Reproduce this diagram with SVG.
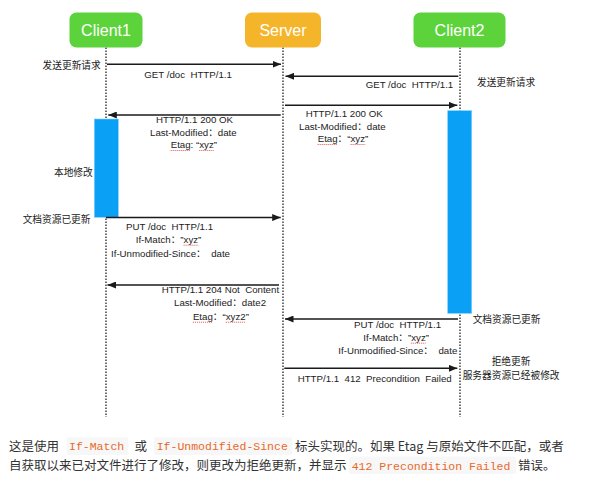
<svg xmlns="http://www.w3.org/2000/svg" width="606" height="481" viewBox="0 0 606 481">
<style>
.box text{font-family:"Liberation Sans",Arial,sans-serif;font-size:16px;fill:#fff;text-anchor:middle}
.lb{font-family:"Liberation Sans","Noto Sans CJK SC",sans-serif;font-size:9.7px;fill:#222;white-space:pre;text-spacing-trim:space-all}
.life{stroke:#222;stroke-width:1.3;stroke-dasharray:1.5 1.5;fill:none}
.msg{stroke:#1a1a1a;stroke-width:1.5;fill:none;marker-end:url(#ah)}
.act{fill:#0AA0F6;stroke:#7ccdfb;stroke-width:0.6}
.sq{stroke:#e0403a;stroke-width:0.9;stroke-dasharray:1 1;fill:none}
.bt{font-family:"Noto Sans CJK SC","Liberation Sans",sans-serif;font-size:12.5px;fill:#333;white-space:pre;text-spacing-trim:space-all}
.code{font-family:"Liberation Mono","DejaVu Sans Mono",monospace;font-size:11.5px;fill:#E8692A;white-space:pre}
.cbg{fill:#F7F7F7}
</style>
<defs>
<marker id="ah" markerUnits="userSpaceOnUse" markerWidth="9" markerHeight="7" refX="8.5" refY="3.5" orient="auto">
<path d="M0,0 L8.5,3.5 L0,7 z" fill="#1a1a1a"/>
</marker>
</defs>
<rect width="606" height="481" fill="#fff"/>

<g id="lifelines">
<line class="life" x1="106" y1="47.5" x2="106" y2="417"/>
<line class="life" x1="283" y1="47.5" x2="283" y2="417"/>
<line class="life" x1="460" y1="47.5" x2="460" y2="417"/>
</g>

<g id="client1" class="box">
<rect x="69.5" y="12.5" width="73" height="35" rx="7" fill="#5CD33A"/>
<text x="106" y="35.5">Client1</text>
</g>
<g id="server" class="box">
<rect x="245" y="12.5" width="76" height="35" rx="7" fill="#F5B52A"/>
<text x="283" y="35.5">Server</text>
</g>
<g id="client2" class="box">
<rect x="413.5" y="12.5" width="92" height="35" rx="7" fill="#5CD33A"/>
<text x="459.5" y="35.5">Client2</text>
</g>

<g id="activation-client1">
<rect class="act" x="94.3" y="119" width="24" height="98.3"/>
</g>
<g id="activation-client2">
<rect class="act" x="447.7" y="110.7" width="24" height="202.6"/>
</g>

<g id="connectors">
<line class="msg" x1="107" y1="64.3" x2="281" y2="64.3"/>
<line class="msg" x1="458.3" y1="76.3" x2="285.5" y2="76.3"/>
<line class="msg" x1="285" y1="105.3" x2="457.3" y2="105.3"/>
<line class="msg" x1="280.7" y1="115" x2="108.3" y2="115"/>
<line class="msg" x1="106" y1="217.6" x2="280.7" y2="217.6"/>
<line class="msg" x1="279" y1="285" x2="107.5" y2="285"/>
<line class="msg" x1="458" y1="319" x2="285" y2="319"/>
<line class="msg" x1="284.3" y1="368.3" x2="457.3" y2="368.3"/>
</g>

<g id="labels">
<text class="lb" x="42.6" y="68.5">发送更新请求</text>
<text class="lb" x="144.3" y="77.7">GET /doc  HTTP/1.1</text>
<text class="lb" x="365.7" y="88">GET /doc  HTTP/1.1</text>
<text class="lb" x="477" y="86.2">发送更新请求</text>

<text class="lb" x="305.7" y="116.7">HTTP/1.1 200 OK</text>
<text class="lb" x="299" y="129.5">Last-Modified：date</text>
<text class="lb" x="317.7" y="142.3">Etag：“xyz”</text>

<text class="lb" x="156" y="122.7">HTTP/1.1 200 OK</text>
<text class="lb" x="150" y="136">Last-Modified：date</text>
<text class="lb" x="170.7" y="148.3">Etag: “xyz”</text>

<text class="lb" x="54" y="176.3">本地修改</text>
<text class="lb" x="22.7" y="222.6">文档资源已更新</text>

<text class="lb" x="126" y="230">PUT /doc  HTTP/1.1</text>
<text class="lb" x="135.7" y="243">If-Match：”xyz”</text>
<text class="lb" x="111" y="256.7">If-Unmodified-Since：  date</text>

<text class="lb" x="161.7" y="293.3">HTTP/1.1 204 Not  Content</text>
<text class="lb" x="174" y="306">Last-Modified：date2</text>
<text class="lb" x="192.9" y="320">Etag：“xyz2”</text>

<text class="lb" x="472.7" y="322.9">文档资源已更新</text>
<text class="lb" x="354" y="327.7">PUT /doc  HTTP/1.1</text>
<text class="lb" x="363.3" y="341">If-Match：”xyz”</text>
<text class="lb" x="338.3" y="354.3">If-Unmodified-Since：  date</text>

<text class="lb" x="491.7" y="365.3">拒绝更新</text>
<text class="lb" x="462.7" y="379.3">服务器资源已经被修改</text>
<text class="lb" x="297.7" y="382.3">HTTP/1.1  412  Precondition  Failed</text>
</g>

<g id="spellcheck">
<line class="sq" x1="317.7" y1="144.5" x2="337.7" y2="144.5"/>
<line class="sq" x1="350.6" y1="144.5" x2="365.2" y2="144.5"/>
<line class="sq" x1="170.7" y1="150.5" x2="190.7" y2="150.5"/>
<line class="sq" x1="199.3" y1="150.5" x2="213.9" y2="150.5"/>
<line class="sq" x1="183.6" y1="245.2" x2="198.2" y2="245.2"/>
<line class="sq" x1="192.9" y1="322.2" x2="212.9" y2="322.2"/>
<line class="sq" x1="225.8" y1="322.2" x2="245.7" y2="322.2"/>
<line class="sq" x1="411.2" y1="343.2" x2="425.8" y2="343.2"/>
</g>

<g id="caption">
<rect class="cbg" x="66.7" y="437.3" width="61.6" height="17.7" rx="2"/>
<rect class="cbg" x="154" y="437.3" width="138.3" height="17.7" rx="2"/>
<rect class="cbg" x="349" y="456.5" width="167" height="17.5" rx="2"/>
<text class="bt" x="9" y="450.6">这是使用</text>
<text class="code" x="69" y="450.3">If-Match</text>
<text class="bt" x="134.5" y="450.6">或</text>
<text class="code" x="156.7" y="450.3">If-Unmodified-Since</text>
<text class="bt" x="295" y="450.6">标头实现的。如果 Etag 与原始文件不匹配，或者</text>
<text class="bt" x="9" y="469.8">自获取以来已对文件进行了修改，则更改为拒绝更新，并显示</text>
<text class="code" x="351.7" y="469.5">412 Precondition Failed</text>
<text class="bt" x="518" y="469.8">错误。</text>
</g>
</svg>
